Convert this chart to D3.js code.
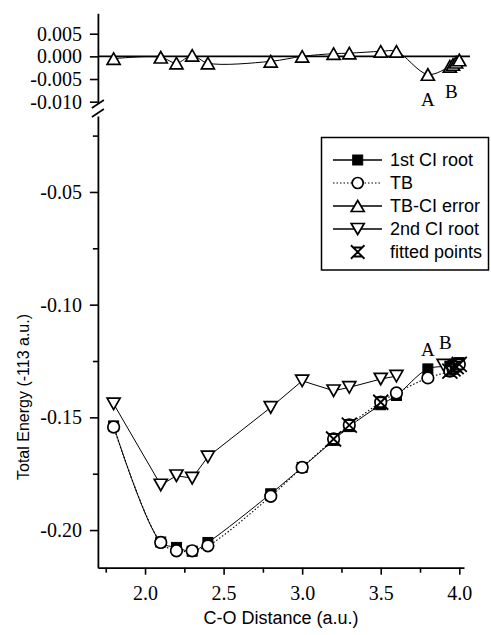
<!DOCTYPE html>
<html>
<head>
<meta charset="utf-8">
<script src="https://cdn.jsdelivr.net/npm/d3@7"></script>
<style>
  html, body { margin: 0; padding: 0; background: #fff; }
  svg { display: block; }
</style>
</head>
<body>
<svg id="chart" width="491" height="635"></svg>
<script>
// ---------------- DATA ----------------
const distance   = [1.8, 2.1, 2.2, 2.3, 2.4, 2.8, 3.0, 3.2, 3.3, 3.5, 3.6, 3.8, 3.94, 3.96, 3.98, 4.0];
const ci1Energy  = [-0.1538, -0.2053, -0.2077, -0.2094, -0.2055, -0.1839, -0.1722, -0.1602, -0.1541, -0.1444, -0.1403, -0.1285, -0.1273, -0.1267, -0.1262, -0.1257];
const tbEnergy   = [-0.1543, -0.2055, -0.2092, -0.2092, -0.2070, -0.1850, -0.1722, -0.1596, -0.1534, -0.1433, -0.1392, -0.1325, -0.1295, -0.1285, -0.1275, -0.1265];
const tbCiError  = [-0.0005, -0.0002, -0.0015, 0.0002, -0.0015, -0.0011, 0.0000, 0.0006, 0.0007, 0.0011, 0.0011, -0.0040, -0.0022, -0.0018, -0.0013, -0.0008];
const root2Distance = [1.8, 2.1, 2.2, 2.3, 2.4, 2.8, 3.0, 3.2, 3.3, 3.5, 3.6, 3.9];
const root2Energy   = [-0.1440, -0.1800, -0.1759, -0.1770, -0.1675, -0.1456, -0.1338, -0.1382, -0.1367, -0.1330, -0.1317, -0.1268];
const root2Connected = 11; // number of leading 2nd-root points joined by the line
const fittedDistance = [3.2, 3.3, 3.5, 3.94, 3.96, 3.98, 4.0];
const fittedEnergy   = [-0.1596, -0.1534, -0.1433, -0.1295, -0.1285, -0.1275, -0.1265];

const xTicks = [2.0, 2.5, 3.0, 3.5, 4.0];
const xMinorTicks = [1.75, 2.25, 2.75, 3.25, 3.75];
const lowerTicks = [-0.20, -0.15, -0.10, -0.05];
const lowerMinorTicks = [-0.175, -0.125, -0.075, -0.025];
const upperTicks = [-0.010, -0.005, 0.000, 0.005];
const legendLabels = ["1st CI root", "TB", "TB-CI error", "2nd CI root", "fitted points"];
const pointLabels = ["A", "B"];
const pointLabelDistance = [3.8, 3.95];

// ---------------- SETUP ----------------
const svg = d3.select("#chart");
const serif = "'Liberation Serif', 'Times New Roman', serif";
const sans = "'Liberation Sans', Arial, Helvetica, sans-serif";

const x = d3.scaleLinear().domain([1.7, 4.03]).range([97.9, 464]);
const yLo = d3.scaleLinear().domain([-0.2167, -0.0163]).range([567.7, 116]);
const yUp = d3.scaleLinear().domain([-0.0104, 0.0095]).range([103.5, 13.3]);

const fmt2 = d3.format(".2f");
const fmt3 = d3.format(".3f");
const minusFmt = f => v => f(v).replace("−", "-");

function styleAxis(g) {
  g.selectAll("path.domain").attr("stroke", "#000").attr("stroke-width", 1.8);
  g.selectAll(".tick line").attr("stroke", "#000").attr("stroke-width", 1.6);
  g.selectAll(".tick text").attr("fill", "#000").style("font-family", serif).style("font-size", "20px");
}

// X axis
const gx = svg.append("g").attr("transform", `translate(0,${yLo.range()[0]})`)
  .call(d3.axisBottom(x).tickValues(xTicks).tickFormat(d3.format(".1f")).tickSize(7).tickSizeOuter(0).tickPadding(11));
styleAxis(gx);
const gxm = svg.append("g").attr("transform", `translate(0,${yLo.range()[0]})`)
  .call(d3.axisBottom(x).tickValues(xMinorTicks).tickFormat("").tickSize(5).tickSizeOuter(0));
gxm.select("path.domain").remove();
styleAxis(gxm);

// Lower Y axis
const gyl = svg.append("g").attr("transform", `translate(${x.range()[0]},0)`)
  .call(d3.axisLeft(yLo).tickValues(lowerTicks).tickFormat(minusFmt(fmt2)).tickSize(8).tickSizeOuter(0).tickPadding(8));
styleAxis(gyl);
const gylm = svg.append("g").attr("transform", `translate(${x.range()[0]},0)`)
  .call(d3.axisLeft(yLo).tickValues(lowerMinorTicks).tickFormat("").tickSize(5).tickSizeOuter(0));
gylm.select("path.domain").remove();
styleAxis(gylm);

// Upper Y axis
const gyu = svg.append("g").attr("transform", `translate(${x.range()[0]},0)`)
  .call(d3.axisLeft(yUp).tickValues(upperTicks).tickFormat(minusFmt(fmt3)).tickSize(8).tickSizeOuter(0).tickPadding(8));
styleAxis(gyu);

// axis break marks
const bx = x.range()[0];
[[108, 100], [117, 109]].forEach(([y1, y2]) => {
  svg.append("line").attr("x1", bx - 6).attr("y1", y1).attr("x2", bx + 6).attr("y2", y2)
    .attr("stroke", "#000").attr("stroke-width", 1.6);
});

// zero line in top panel
svg.append("line").attr("x1", x.range()[0]).attr("x2", 470)
  .attr("y1", yUp(0)).attr("y2", yUp(0)).attr("stroke", "#000").attr("stroke-width", 1.8);

// Axis titles
svg.append("text").attr("x", 281).attr("y", 624).attr("text-anchor", "middle")
  .style("font-family", sans).style("font-size", "18px").text("C-O Distance (a.u.)");
svg.append("text").attr("transform", "translate(29,397) rotate(-90)").attr("text-anchor", "middle")
  .style("font-family", sans).style("font-size", "16px").text("Total Energy (-113 a.u.)");

// ---------------- MARKS ----------------
const idx = distance.map((d, i) => i);
const lineCI1 = d3.line().x(i => x(distance[i])).y(i => yLo(ci1Energy[i])).curve(d3.curveCatmullRom);
const lineTB = d3.line().x(i => x(distance[i])).y(i => yLo(tbEnergy[i])).curve(d3.curveCatmullRom);
const lineErr = d3.line().x(i => x(distance[i])).y(i => yUp(tbCiError[i])).curve(d3.curveCatmullRom);
const lineR2 = d3.line().x(i => x(root2Distance[i])).y(i => yLo(root2Energy[i]));

svg.append("path").attr("d", lineErr(idx)).attr("fill", "none").attr("stroke", "#000").attr("stroke-width", 1);
svg.append("path").attr("d", lineR2(d3.range(root2Connected))).attr("fill", "none").attr("stroke", "#000").attr("stroke-width", 1);
svg.append("path").attr("d", lineCI1(idx)).attr("fill", "none").attr("stroke", "#000").attr("stroke-width", 1);
svg.append("path").attr("d", lineTB(idx)).attr("fill", "none").attr("stroke", "#000").attr("stroke-width", 1.1).attr("stroke-dasharray", "1.5,2");

const triUp = (w, h) => `M0,${-h/2}L${w/2},${h/2}L${-w/2},${h/2}Z`;
const triDown = (w, h) => `M${-w/2},${-h/2}L${w/2},${-h/2}L0,${h/2}Z`;
const sw = 1.7;

function drawSquare(g, cx, cy, s) {
  g.append("rect").attr("x", cx - s/2).attr("y", cy - s/2).attr("width", s).attr("height", s)
    .attr("fill", "#000").attr("stroke", "#000").attr("stroke-width", 1);
}
function drawCircle(g, cx, cy, r) {
  g.append("circle").attr("cx", cx).attr("cy", cy).attr("r", r)
    .attr("fill", "#fff").attr("stroke", "#000").attr("stroke-width", sw);
}
function drawTri(g, cx, cy, up, w, h) {
  g.append("path").attr("transform", `translate(${cx},${cy})`).attr("d", up ? triUp(w, h) : triDown(w, h))
    .attr("fill", "#fff").attr("stroke", "#000").attr("stroke-width", sw);
}
function drawFitted(g, cx, cy, s) {
  const a = s * 0.75;
  g.append("path").attr("transform", `translate(${cx},${cy})`)
    .attr("d", `M${-a},${-a}L${a},${a}M${a},${-a}L${-a},${a}M${-s/2},${-s/2}L${s/2},${-s/2}L${-s/2},${s/2}L${s/2},${s/2}Z`)
    .attr("fill", "none").attr("stroke", "#000").attr("stroke-width", 1.8);
}

const gm = svg.append("g");
root2Distance.forEach((d, i) => drawTri(gm, x(d), yLo(root2Energy[i]), false, 13, 11.5));
distance.forEach((d, i) => drawSquare(gm, x(d), yLo(ci1Energy[i]), 10));
distance.forEach((d, i) => drawCircle(gm, x(d), yLo(tbEnergy[i]), 5.8));
fittedDistance.forEach((d, i) => drawFitted(gm, x(d), yLo(fittedEnergy[i]), 10));
distance.forEach((d, i) => drawTri(gm, x(d), yUp(tbCiError[i]), true, 13, 11.5));

// A / B labels
const labelStyle = t => t.style("font-family", serif).style("font-size", "19px").attr("text-anchor", "middle");
svg.append("text").attr("x", x(pointLabelDistance[0])).attr("y", 106).text(pointLabels[0]).call(labelStyle);
svg.append("text").attr("x", x(pointLabelDistance[1])).attr("y", 98).text(pointLabels[1]).call(labelStyle);
svg.append("text").attr("x", x(pointLabelDistance[0])).attr("y", 356).text(pointLabels[0]).call(labelStyle);
svg.append("text").attr("x", x(pointLabelDistance[1]) - 6).attr("y", 349).text(pointLabels[1]).call(labelStyle);

// ---------------- LEGEND ----------------
const lg = svg.append("g");
lg.append("rect").attr("x", 321.5).attr("y", 137.5).attr("width", 167).attr("height", 132.5)
  .attr("fill", "#fff").attr("stroke", "#000").attr("stroke-width", 1.5);
legendLabels.forEach((lab, i) => {
  const cy = 160 + i * 23;
  if (i < 4) {
    lg.append("line").attr("x1", 333).attr("x2", 382).attr("y1", cy).attr("y2", cy)
      .attr("stroke", "#000").attr("stroke-width", i === 1 ? 1.1 : 1.3)
      .attr("stroke-dasharray", i === 1 ? "1.5,2" : null);
  }
  if (i === 0) drawSquare(lg, 357.7, cy, 10);
  if (i === 1) drawCircle(lg, 357.7, cy, 5.5);
  if (i === 2) drawTri(lg, 357.7, cy, true, 13, 11);
  if (i === 3) drawTri(lg, 357.7, cy, false, 13, 11);
  if (i === 4) drawFitted(lg, 357.7, cy, 9);
  lg.append("text").attr("x", 390).attr("y", cy).attr("dy", "0.36em")
    .style("font-family", sans).style("font-size", "18px").text(lab);
});
</script>
</body>
</html>
